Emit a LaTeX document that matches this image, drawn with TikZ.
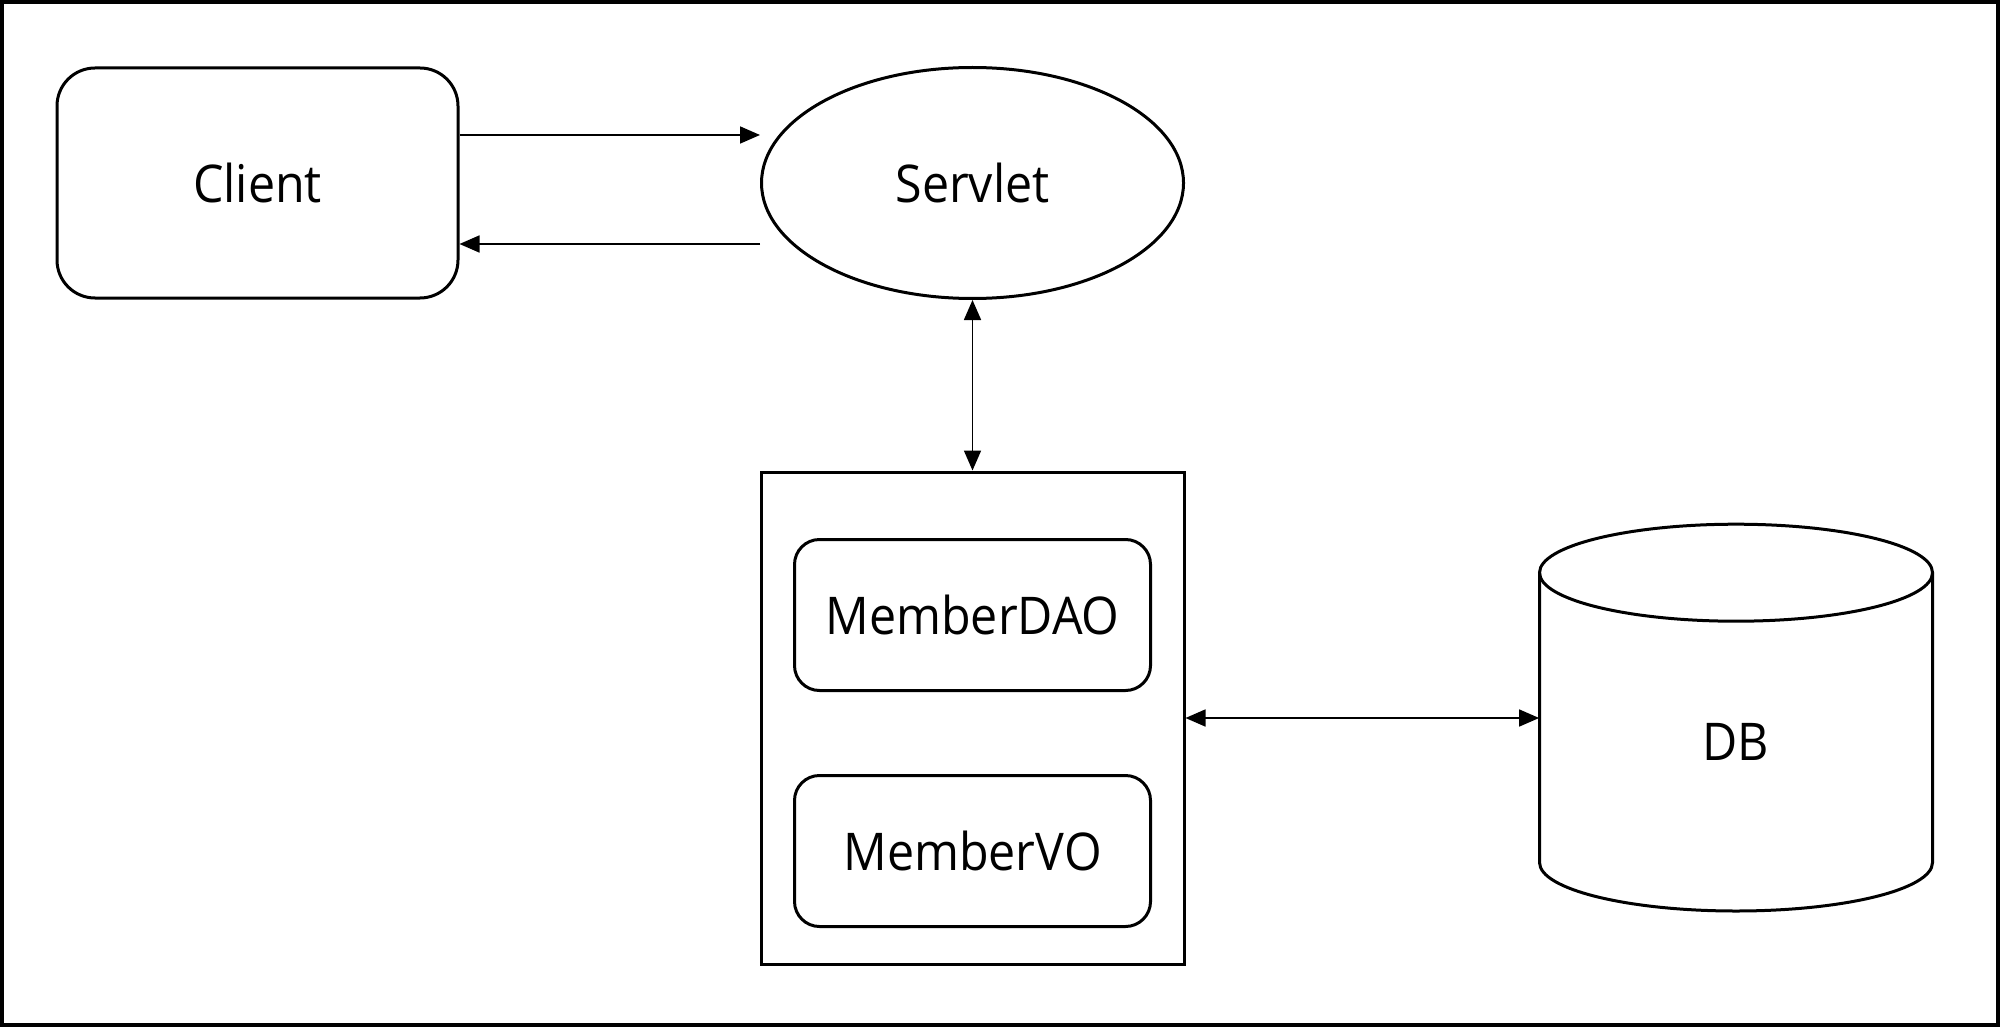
\documentclass[tikz,border=0pt]{standalone}
\usepackage{fontspec}
\setmainfont[FakeStretch=0.93]{Open Sans}
\usetikzlibrary{arrows.meta,shapes.geometric,calc}
\begin{document}
\begin{tikzpicture}[x=0.5pt,y=-0.5pt,
  shapeline/.style={draw=black,line width=1.5pt},
  lbl/.style={font=\fontsize{26}{31}\selectfont,text=black},
  conn/.style={draw=black,line width=0.85pt,-{Triangle[length=10pt,width=8.5pt]}},
  conn2/.style={draw=black,line width=0.85pt,{Triangle[length=10pt,width=8.5pt]}-{Triangle[length=10pt,width=8.5pt]}},
  rbox/.style={shapeline,rectangle,rounded corners=19pt,minimum width=200.5pt,minimum height=115pt,inner sep=0pt,lbl},
  ibox/.style={shapeline,rectangle,rounded corners=12.5pt,minimum width=178pt,minimum height=75.5pt,inner sep=0pt,lbl}
]
\useasboundingbox (0,0) rectangle (2000,1027);
\draw[line width=2pt] (2,2) rectangle (1998,1025);

\node[rbox] (client) at (257.5,183) {Client};
\node[shapeline,ellipse,minimum width=211pt,minimum height=115.5pt,inner sep=0pt,lbl] (servlet) at (972.5,183) {Servlet};
\node[shapeline,rectangle,minimum width=211.5pt,minimum height=246pt,inner sep=0pt] (box) at (972.5,718) {};
\node[ibox] (dao) at (972.5,615) {MemberDAO};
\node[ibox] (vo) at (972.5,851) {MemberVO};

% DB cylinder
\node[minimum width=196.5pt,minimum height=50pt,inner sep=0pt,lbl] (db) at (1736,718) {};
\node[lbl] (dblbl) at (1736,742) {DB};
\draw[shapeline] (1736,572.7) ellipse [x radius=196.5,y radius=48.5];
\draw[shapeline] (1539.5,572.7) -- (1539.5,862.5) arc[start angle=180,end angle=360,x radius=196.5,y radius=-48.5] -- (1932.5,572.7);

\coordinate (c1) at ($(client.east)+(0,-48)$);
\coordinate (c2) at ($(client.east)+(0,61)$);
\draw[conn] (c1) -- (servlet.west |- c1);
\draw[conn] (servlet.west |- c2) -- (c2);
\draw[conn2] (servlet.south) -- (box.north);
\draw[conn2] (box.east) -- (db.west);
\end{tikzpicture}
\end{document}
